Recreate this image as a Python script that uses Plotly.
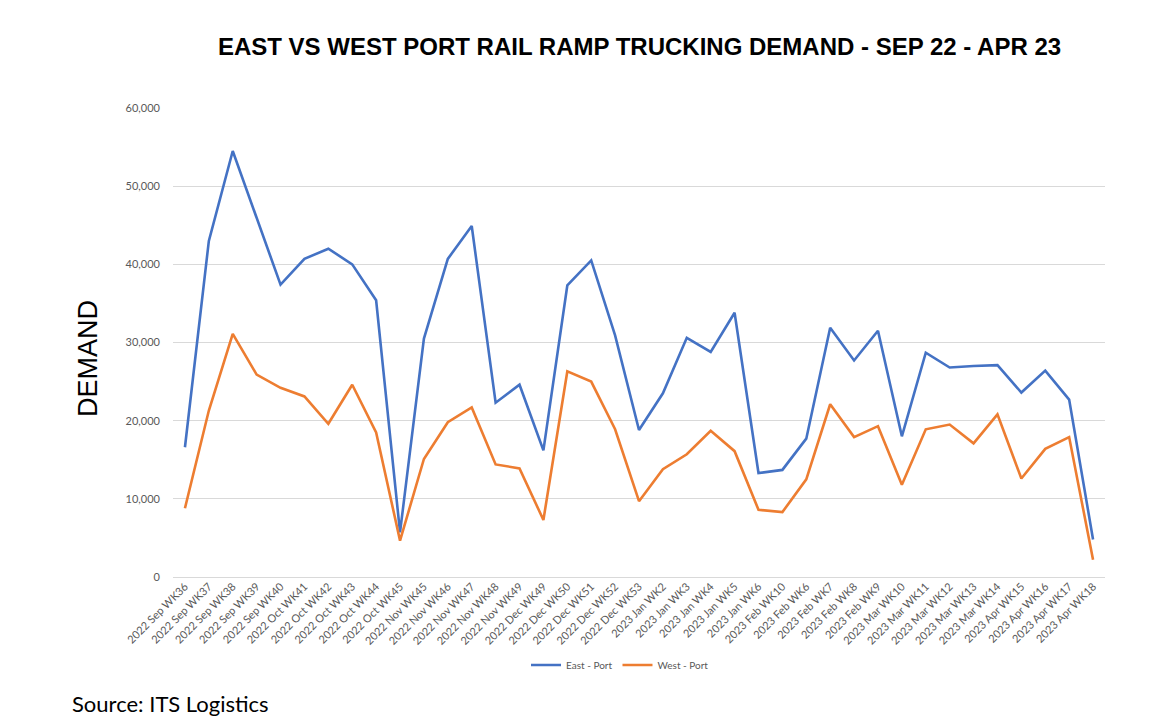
import plotly.graph_objects as go

# week labels along the x axis
weeks = [
    "2022 Sep WK36", "2022 Sep WK37", "2022 Sep WK38", "2022 Sep WK39", "2022 Sep WK40",
    "2022 Oct WK41", "2022 Oct WK42", "2022 Oct WK43", "2022 Oct WK44", "2022 Oct WK45",
    "2022 Nov WK45", "2022 Nov WK46", "2022 Nov WK47", "2022 Nov WK48", "2022 Nov WK49",
    "2022 Dec WK49", "2022 Dec WK50", "2022 Dec WK51", "2022 Dec WK52", "2022 Dec WK53",
    "2023 Jan WK2", "2023 Jan WK3", "2023 Jan WK4", "2023 Jan WK5", "2023 Jan WK6",
    "2023 Feb WK10", "2023 Feb WK6", "2023 Feb WK7", "2023 Feb WK8", "2023 Feb WK9",
    "2023 Mar WK10", "2023 Mar WK11", "2023 Mar WK12", "2023 Mar WK13", "2023 Mar WK14",
    "2023 Apr WK15", "2023 Apr WK16", "2023 Apr WK17", "2023 Apr WK18",
]

east_port = [
    16600, 43000, 54500, 46000, 37400,
    40700, 42000, 40000, 35400, 5700,
    30500, 40700, 44900, 22300, 24600,
    16200, 37300, 40500, 30900, 18800,
    23500, 30600, 28800, 33800, 13300,
    13700, 17700, 31900, 27700, 31500,
    18000, 28700, 26800, 27000, 27100,
    23600, 26400, 22700, 4800,
]

west_port = [
    8800, 21300, 31100, 25900, 24200,
    23100, 19600, 24600, 18500, 4650,
    15100, 19800, 21700, 14400, 13900,
    7300, 26300, 25000, 18900, 9700,
    13800, 15700, 18700, 16100, 8600,
    8300, 12500, 22100, 17900, 19300,
    11800, 18900, 19500, 17100, 20800,
    12600, 16400, 17900, 2200,
]

y_ticks = [0, 10000, 20000, 30000, 40000, 50000, 60000]

# the page puts the figure 8px in from the top-left corner
W, H = 1143, 711
L, R, T, B = 165, 46, 100, 142
plot_w = W - L - R
plot_h = H - T - B

fig = go.Figure()
fig.add_trace(go.Scatter(x=weeks, y=east_port, mode="lines", name="East - Port",
                         line=dict(color="#4472C4", width=2.6)))
fig.add_trace(go.Scatter(x=weeks, y=west_port, mode="lines", name="West - Port",
                         line=dict(color="#ED7D31", width=2.6)))

fig.update_layout(
    width=W, height=H,
    margin=dict(l=L, r=R, t=T, b=B),
    paper_bgcolor="white", plot_bgcolor="white",
    font=dict(family="Lato, Open Sans, sans-serif", color="#595959"),
    title=dict(
        text="<b>EAST VS WEST PORT RAIL RAMP TRUCKING DEMAND - SEP 22 - APR 23</b>",
        x=631.5 / W, xanchor="center", y=1 - 39 / H, yanchor="middle",
        font=dict(family="Liberation Sans, Arial", size=24, color="black"),
    ),
    showlegend=True,
    legend=dict(orientation="h", x=(612 - L) / plot_w, xanchor="center",
                y=(H - B - 657) / plot_h, yanchor="middle",
                font=dict(size=10, color="#595959"), itemwidth=30),
    annotations=[
        dict(text="DEMAND", textangle=-90, x=(80 - L) / plot_w, xref="paper",
             y=(H - B - 351) / plot_h, yref="paper", showarrow=False,
             xanchor="center", yanchor="middle",
             font=dict(family="Liberation Sans, Arial", size=27, color="black")),
        dict(text="Source: ITS Logistics", x=(62 - L) / plot_w, xref="paper",
             y=(H - B - 695) / plot_h, yref="paper", showarrow=False,
             xanchor="left", yanchor="middle",
             font=dict(family="Lato, Open Sans, sans-serif", size=22, color="black")),
    ],
)

fig.update_xaxes(
    type="category", range=[-0.5, len(weeks) - 0.5],
    tickangle=-45, tickfont=dict(size=11, color="#595959"),
    showgrid=False, showline=False, zeroline=False, ticks="",
)
fig.update_yaxes(
    range=[0, 60000], tickvals=y_ticks, tickformat=",",
    tickfont=dict(size=11, color="#595959"),
    showgrid=True, gridcolor="#D9D9D9", gridwidth=1,
    zeroline=True, zerolinecolor="#D9D9D9", zerolinewidth=1,
    showline=False, ticks="", ticklen=0, ticklabelstandoff=12,
)

fig.write_html("out.html")
